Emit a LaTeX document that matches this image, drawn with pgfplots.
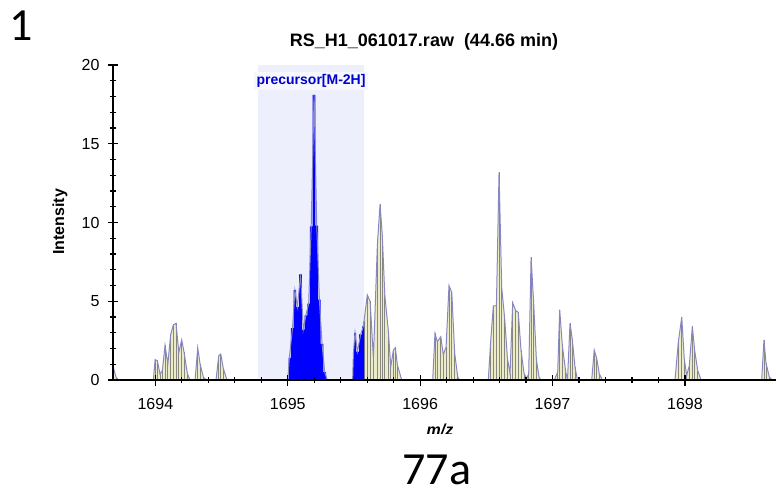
\documentclass[border=0pt]{standalone}
\usepackage{pgfplots}
\pgfplotsset{compat=1.18}
\usepackage{pgfplotstable}
\usepackage{fontspec}
\setmainfont{Liberation Sans}
\newfontfamily\calibri{Carlito}

\definecolor{winbg}{RGB}{238,239,252}
\definecolor{peakfill}{RGB}{236,236,200}
\definecolor{stick}{RGB}{135,135,125}
\definecolor{profile}{RGB}{135,135,195}
\definecolor{precblue}{RGB}{0,0,255}
\definecolor{labelblue}{RGB}{0,0,205}

% profile left of the precursor window
\pgfplotstableread{
x y
1693.675 1.05
1693.703 0.17
1693.721 0
1693.985 0
1693.998 1.29
1694.015 1.23
1694.035 0.38
1694.053 0.6
1694.073 2.2
1694.094 1.0
1694.116 2.9
1694.136 3.5
1694.156 3.6
1694.177 1.75
1694.199 2.55
1694.217 1.75
1694.242 0.4
1694.262 0
1694.300 0
1694.320 2.05
1694.338 1.0
1694.363 0.17
1694.383 0
1694.458 0
1694.479 1.55
1694.494 1.65
1694.514 0.7
1694.539 0.06
1694.554 0
}\specA

% precursor window
\pgfplotstableread{
x y
1695.000 0
1695.012 1.4
1695.036 3.3
1695.054 5.7
1695.073 4.65
1695.097 6.7
1695.117 3.2
1695.137 4.1
1695.158 4.85
1695.177 9.75
1695.199 18.1
1695.219 9.8
1695.239 5.1
1695.259 2.3
1695.279 0.5
1695.299 0
}\blueA

\pgfplotstableread{
x y
1695.490 0
1695.496 1.7
1695.508 3.0
1695.526 1.8
1695.551 2.9
1695.571 3.4
1695.576 3.73
}\blueB

% profile right of the precursor window
\pgfplotstableread{
x y
1695.576 3.73
1695.601 5.4
1695.622 5.0
1695.647 1.4
1695.677 8.6
1695.697 11.15
1695.714 9.2
1695.733 5.4
1695.760 3.1
1695.778 0.85
1695.798 1.9
1695.813 2.05
1695.828 0.95
1695.861 0
1696.095 0
1696.112 2.96
1696.130 2.43
1696.156 2.75
1696.175 1.6
1696.196 2.1
1696.218 6.0
1696.239 5.55
1696.261 1.7
1696.284 0.2
1696.296 0
1696.515 0
1696.533 2.5
1696.553 4.7
1696.576 4.7
1696.596 13.2
1696.616 5.9
1696.639 3.85
1696.659 1.4
1696.679 0.4
1696.699 4.9
1696.722 4.4
1696.741 4.3
1696.762 1.9
1696.785 0.4
1696.805 0.1
1696.820 0.4
1696.838 7.8
1696.858 4.8
1696.878 1.3
1696.898 0.2
1696.911 0
1697.014 0
1697.039 0.5
1697.054 4.47
1697.074 2.2
1697.100 0.5
1697.113 0
1697.132 3.6
1697.149 2.6
1697.170 0.8
1697.188 0
1697.296 0
1697.315 1.9
1697.334 1.35
1697.353 0.4
1697.376 0
1697.925 0
1697.950 2.4
1697.976 4.0
1697.995 1.35
1698.013 0.3
1698.033 0.9
1698.056 3.4
1698.074 1.85
1698.097 0.6
1698.122 0
1698.580 0
1698.597 2.55
1698.612 1.1
1698.637 0.2
1698.658 0
}\specB

\begin{document}
\begin{tikzpicture}
\useasboundingbox (-56.5pt,-56.5pt) rectangle (331.5pt,190pt);
\begin{axis}[
    scale only axis,
    width=331.5pt, height=157.5pt,
    xmin=1693.68, xmax=1698.688,
    ymin=0, ymax=20,
    axis lines*=left,
    axis line style={black, line width=0.7pt},
    axis on top,
    xtick={1694,1695,1696,1697,1698},
    ytick={0,5,10,15,20},
    minor x tick num=4, minor y tick num=4,
    tick align=center,
    major tick length=5.5pt, minor tick length=3pt,
    tick style={black, line width=0.6pt},
    ticklabel style={font=\fontsize{8}{9}\selectfont},
    /pgf/number format/assume math mode=true,
    /pgf/number format/set thousands separator={},
    xticklabel style={yshift=-3pt},
    yticklabel style={xshift=-0.5pt},
]
% precursor isolation window
\addplot[draw=none, fill=winbg] coordinates {(1694.777,0) (1694.777,20) (1695.576,20) (1695.576,0)} \closedcycle;

% peaks outside the window
\addplot[draw=none, fill=peakfill] table {\specA} \closedcycle;
\addplot[draw=none, fill=peakfill] table {\specB} \closedcycle;
\addplot[ycomb, stick, line width=0.4pt] table {\specA};
\addplot[ycomb, stick, line width=0.4pt] table {\specB};

% precursor peaks
\addplot[const plot mark mid, draw=none, fill=precblue] table {\blueA} \closedcycle;
\addplot[const plot mark mid, draw=none, fill=precblue] table {\blueB} \closedcycle;

% profile outline
\addplot[profile, line width=0.5pt] table {\specA};
\addplot[profile, line width=0.5pt] table {\blueA};
\addplot[profile, line width=0.5pt] table {\blueB};
\addplot[profile, line width=0.5pt] table {\specB};

\node[fill=white!55!winbg, text=labelblue, inner sep=1.2pt,
      font=\bfseries\fontsize{7}{8}\selectfont] at (axis cs:1695.176,18.98) {precursor[M-2H]};
\end{axis}

\node[font=\bfseries\fontsize{9}{10}\selectfont] at (155.5pt,169pt) {RS\_H1\_061017.raw\ \ (44.66 min)};
\node[rotate=90, font=\bfseries\fontsize{8}{9}\selectfont] at (-26.5pt,79pt) {Intensity};
\begin{scope}
  \clip (140pt,-26.5pt) rectangle (190pt,-10pt);
  \node[anchor=base, font=\bfseries\itshape\fontsize{8}{9}\selectfont] at (163.5pt,-27.5pt) {m/z};
\end{scope}
\node[font=\calibri\fontsize{23}{26}\selectfont] at (-46pt,177pt) {1};
\node[anchor=base, inner sep=0pt, font=\calibri\fontsize{23}{26}\selectfont] at (162pt,-52pt) {77a};
\end{tikzpicture}
\end{document}
